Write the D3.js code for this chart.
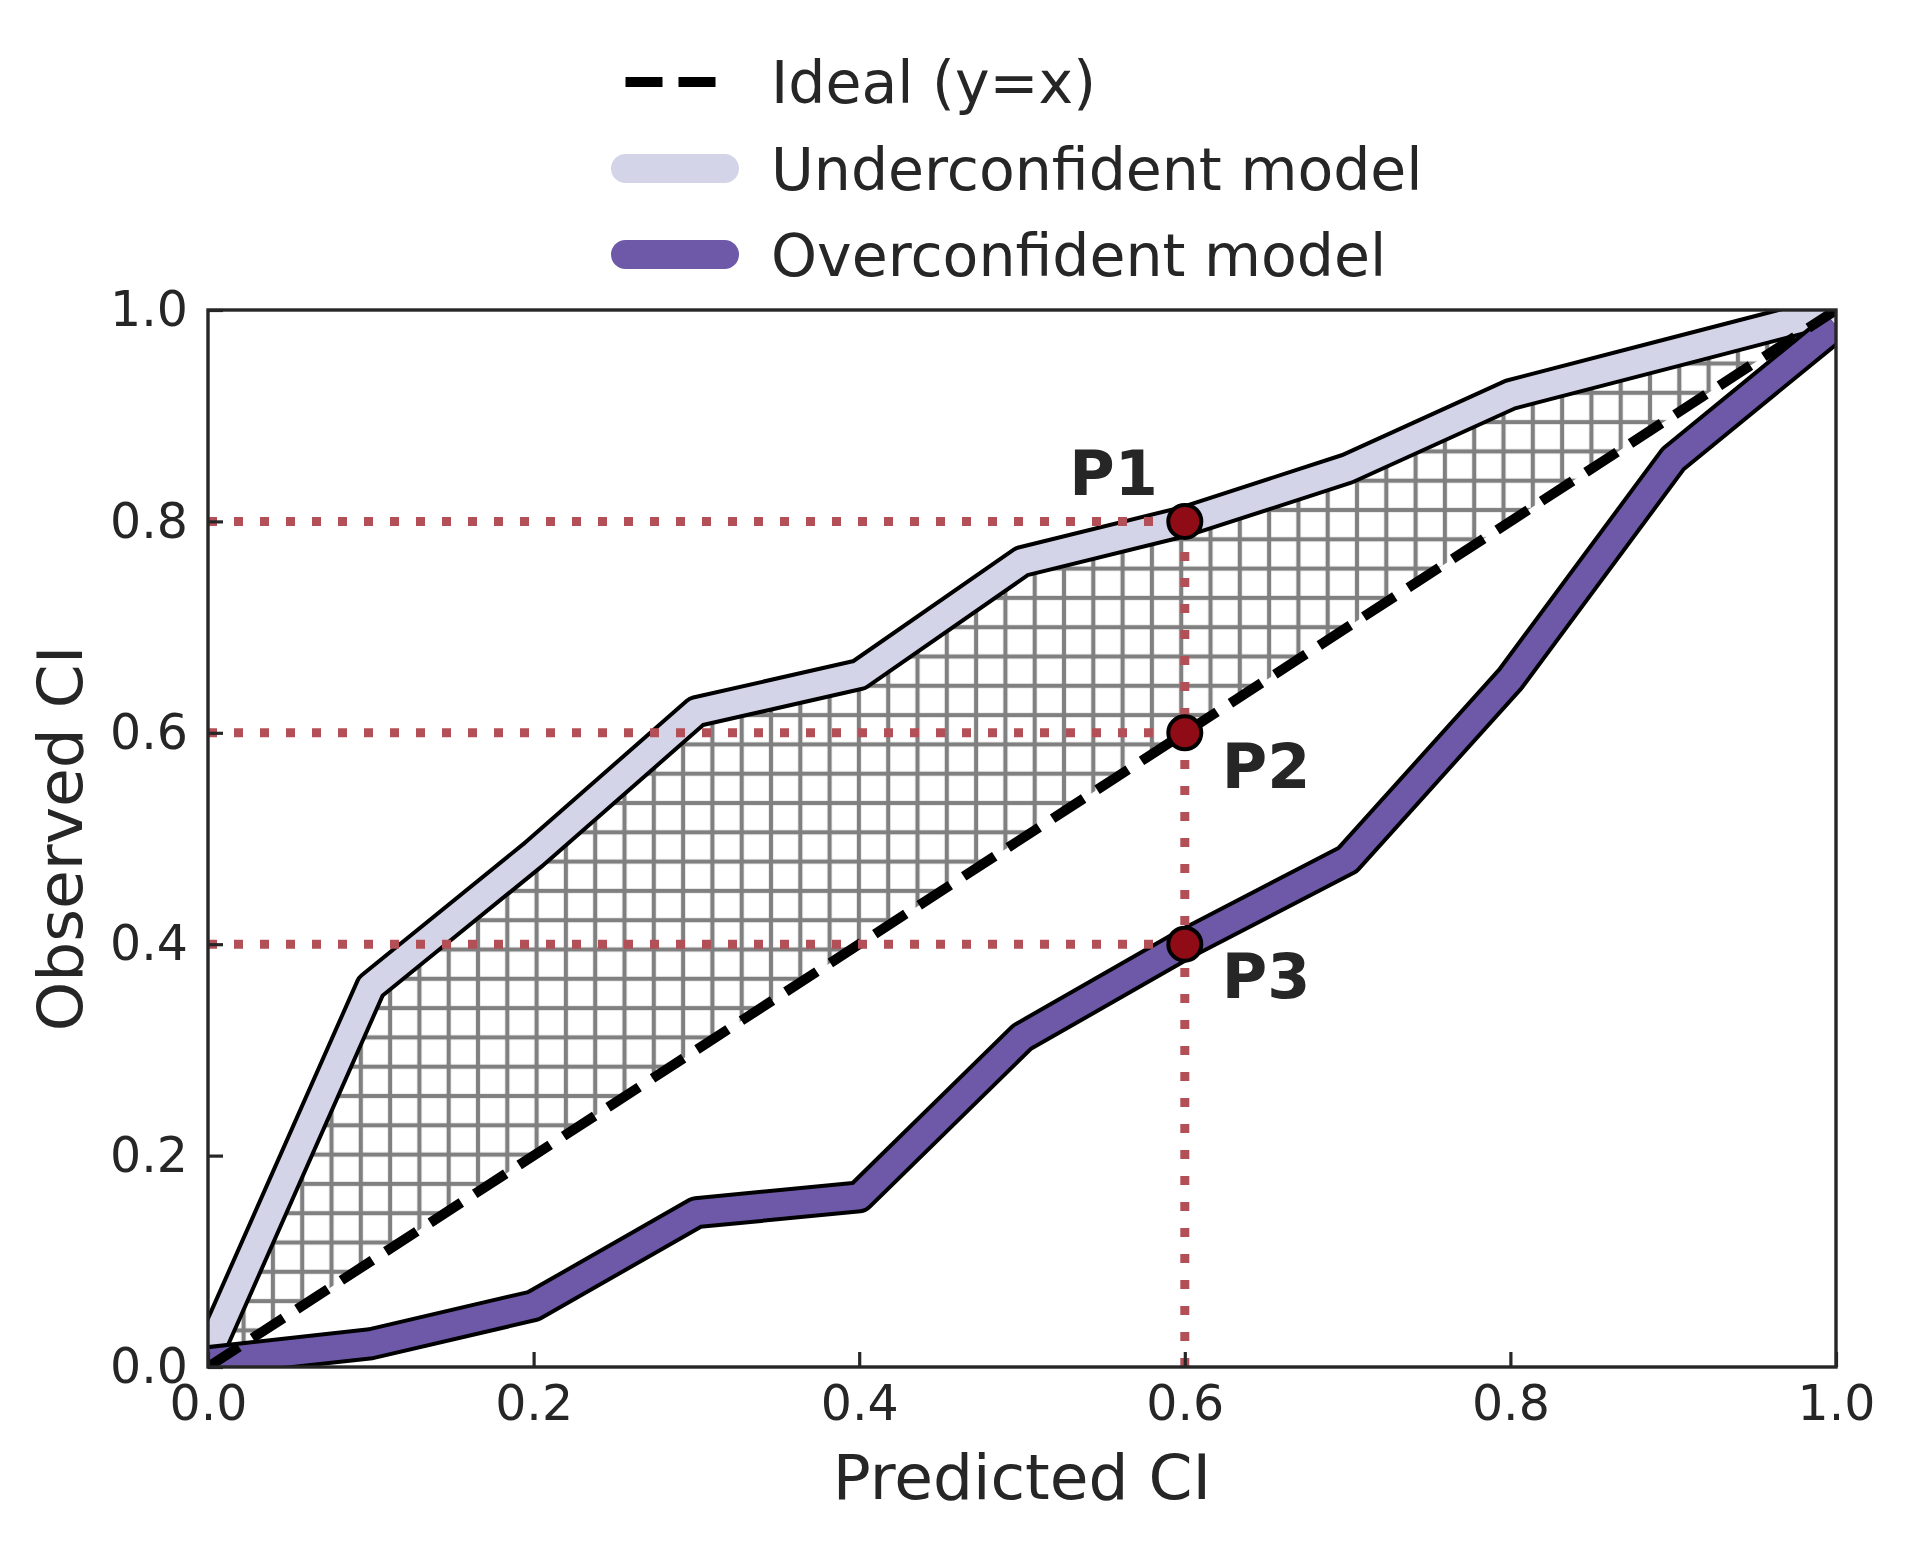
<!DOCTYPE html>
<html>
<head>
<meta charset="utf-8">
<script src="https://cdn.jsdelivr.net/npm/d3@7"></script>
<style>
  html, body { margin: 0; padding: 0; background: #ffffff; }
  svg { display: block; }
  text { font-family: "DejaVu Sans", sans-serif; fill: #262626; }
</style>
</head>
<body>
<svg id="chart" width="1910" height="1546"></svg>
<script>
// ---- data ----
const predicted = [0.0, 0.1, 0.2, 0.3, 0.4, 0.5, 0.6, 0.7, 0.8, 0.9, 1.0];
const underconfident = [0.012, 0.36, 0.485, 0.62, 0.655, 0.762, 0.80, 0.85, 0.92, 0.96, 1.0];
const overconfident = [0.005, 0.022, 0.058, 0.146, 0.161, 0.312, 0.40, 0.48, 0.651, 0.859, 0.985];
const idealX = [0.0, 1.0];
const pointNames = ["P1", "P2", "P3"];
const pointX = [0.6, 0.6, 0.6];
const pointY = [0.8, 0.6, 0.4];
const xTicks = [0.0, 0.2, 0.4, 0.6, 0.8, 1.0];
const yTicks = [0.0, 0.2, 0.4, 0.6, 0.8, 1.0];
const legendLabels = ["Ideal (y=x)", "Underconfident model", "Overconfident model"];

// ---- layout ----
const svg = d3.select("#chart");
const L = 208, R = 1836, T = 310, B = 1367;
const x = d3.scaleLinear().domain([0, 1]).range([L, R]);
const y = d3.scaleLinear().domain([0, 1]).range([B, T]);

const cUnder = "#d4d4e8", cOver = "#6e59a8", cMarker = "#8f0c16", cDot = "#b34f57", cText = "#262626";

const defs = svg.append("defs");
defs.append("clipPath").attr("id", "plotclip")
  .append("rect").attr("x", L).attr("y", T).attr("width", R - L).attr("height", B - T);

const hs = 29.3;
const pat = defs.append("pattern").attr("id", "hatch")
  .attr("patternUnits", "userSpaceOnUse")
  .attr("width", hs).attr("height", hs)
  .attr("x", 1064 - hs / 2).attr("y", 510 - hs / 2);
pat.append("line").attr("x1", hs / 2).attr("x2", hs / 2).attr("y1", 0).attr("y2", hs)
  .attr("stroke", "#808080").attr("stroke-width", 4.2);
pat.append("line").attr("x1", 0).attr("x2", hs).attr("y1", hs / 2).attr("y2", hs / 2)
  .attr("stroke", "#808080").attr("stroke-width", 4.2);

const plot = svg.append("g").attr("clip-path", "url(#plotclip)");

// hatched region between ideal and underconfident
const area = d3.area()
  .x(d => x(d[0]))
  .y0(d => y(d[0]))
  .y1(d => y(d[1]));
plot.append("path")
  .datum(predicted.map((p, i) => [p, underconfident[i]]))
  .attr("d", area)
  .attr("fill", "url(#hatch)")
  .attr("stroke", "none");

const line = d3.line().x(d => x(d[0])).y(d => y(d[1]));

function band(vals, color) {
  const pts = predicted.map((p, i) => [p, vals[i]]);
  plot.append("path").datum(pts).attr("d", line)
    .attr("fill", "none").attr("stroke", "#000").attr("stroke-width", 33)
    .attr("stroke-linejoin", "round");
  plot.append("path").datum(pts).attr("d", line)
    .attr("fill", "none").attr("stroke", color).attr("stroke-width", 25)
    .attr("stroke-linejoin", "round");
}
band(underconfident, cUnder);
band(overconfident, cOver);

// ideal line
plot.append("path").datum(idealX.map(v => [v, v])).attr("d", line)
  .attr("fill", "none").attr("stroke", "#000").attr("stroke-width", 10)
  .attr("stroke-dasharray", "37,16");

// dotted guide lines
pointY.forEach((py, i) => {
  plot.append("line")
    .attr("x1", x(0)).attr("x2", x(pointX[i]))
    .attr("y1", y(py)).attr("y2", y(py))
    .attr("stroke", cDot).attr("stroke-width", 9).attr("stroke-dasharray", "9,17");
});
plot.append("line")
  .attr("x1", x(pointX[0])).attr("x2", x(pointX[0]))
  .attr("y1", y(0)).attr("y2", y(d3.max(pointY)))
  .attr("stroke", cDot).attr("stroke-width", 9).attr("stroke-dasharray", "9,17");

// markers
pointY.forEach((py, i) => {
  svg.append("circle").attr("cx", x(pointX[i])).attr("cy", y(py)).attr("r", 16.5)
    .attr("fill", cMarker).attr("stroke", "#000").attr("stroke-width", 4);
});

// point labels
const labelOffsets = [[-27, -26, "end"], [37, 55, "start"], [37, 54, "start"]];
pointNames.forEach((n, i) => {
  const o = labelOffsets[i];
  svg.append("text").attr("x", x(pointX[i]) + o[0]).attr("y", y(pointY[i]) + o[1])
    .attr("text-anchor", o[2]).attr("font-weight", "bold").attr("font-size", 62)
    .text(n);
});

// axes
const xAxis = d3.axisBottom(x).tickValues(xTicks).tickFormat(d3.format(".1f"))
  .tickSizeInner(-15).tickSizeOuter(0).tickPadding(18);
const yAxis = d3.axisLeft(y).tickValues(yTicks).tickFormat(d3.format(".1f"))
  .tickSizeInner(-15).tickSizeOuter(0).tickPadding(20);

const gx = svg.append("g").attr("transform", `translate(0,${B})`).call(xAxis);
const gy = svg.append("g").attr("transform", `translate(${L},0)`).call(yAxis);
[gx, gy].forEach(g => {
  g.select(".domain").remove();
  g.selectAll(".tick line").attr("stroke", cText).attr("stroke-width", 3.2);
  g.selectAll(".tick text").attr("font-size", 49).attr("fill", cText)
    .style("font-family", "'DejaVu Sans', sans-serif");
});

// spines
svg.append("rect").attr("x", L).attr("y", T).attr("width", R - L).attr("height", B - T)
  .attr("fill", "none").attr("stroke", cText).attr("stroke-width", 3.4);

// axis labels
svg.append("text").attr("x", (L + R) / 2).attr("y", 1499).attr("text-anchor", "middle")
  .attr("font-size", 63).text("Predicted CI");
svg.append("text").attr("transform", `translate(82,${(T + B) / 2}) rotate(-90)`)
  .attr("text-anchor", "middle").attr("font-size", 63).text("Observed CI");

// legend
const lg = svg.append("g");
const hx1 = 625.5, hx2 = 724.5, tx = 771;
const rows = [82, 168.5, 254.5];
lg.append("line").attr("x1", hx1).attr("x2", hx2).attr("y1", rows[0]).attr("y2", rows[0])
  .attr("stroke", "#000").attr("stroke-width", 10).attr("stroke-dasharray", "37,16");
lg.append("line").attr("x1", hx1).attr("x2", hx2).attr("y1", rows[1]).attr("y2", rows[1])
  .attr("stroke", cUnder).attr("stroke-width", 29).attr("stroke-linecap", "round");
lg.append("line").attr("x1", hx1).attr("x2", hx2).attr("y1", rows[2]).attr("y2", rows[2])
  .attr("stroke", cOver).attr("stroke-width", 29).attr("stroke-linecap", "round");
legendLabels.forEach((t, i) => {
  lg.append("text").attr("x", tx).attr("y", rows[i] + 21).attr("font-size", 58.5).text(t);
});
</script>
</body>
</html>
